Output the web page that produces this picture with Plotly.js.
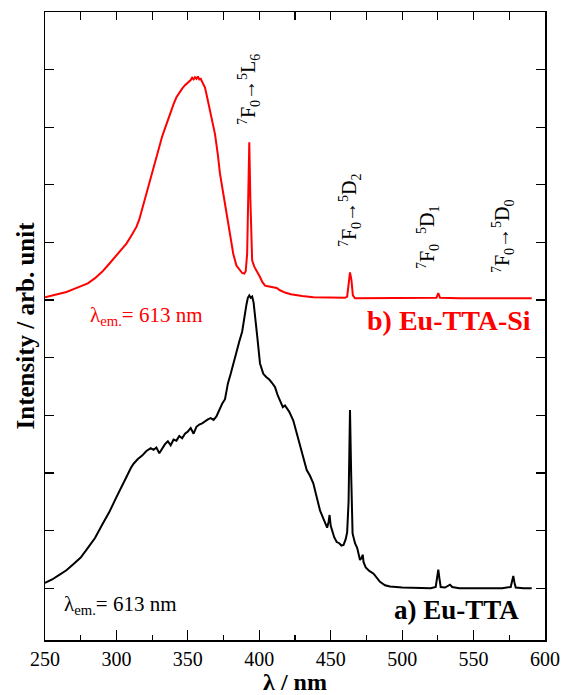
<!DOCTYPE html>
<html>
<head>
<meta charset="utf-8">
<script src="https://cdn.plot.ly/plotly-3.0.1.min.js"></script>
<style>html,body{margin:0;padding:0;background:#fff;}#chart{width:563px;height:695px;}</style>
</head>
<body>
<div id="chart"></div>
<script>
// a) Eu-TTA excitation spectrum (stacked offset 0)
const wavelengthA = [250,255,260,265,270,275,280,285,290,295,300,303,307,310,312,315,318,321,324,326,328,330,332,334,336,338,340,342,344,346,348,350,352,354,356,358,360,362,364,366,368,370,372,374,376,378,380,382,384,386,388,390,391,392,393,394,395,396,397,398.6,400.5,402.8,405,407,409,411,413,414.5,416.5,418,419,421,423.8,426,428.5,431,433.2,435.5,437.8,440,442.5,445,447.5,448.5,449.2,450,451,452.5,454.2,456,457.5,459,460.5,461.5,462.5,463.5,464.3,465.3,467,468.5,470.5,471.5,472.4,473,474.5,477,480,482,484.5,488,491.5,500,510,520,523.5,524.5,525.3,526.2,527,530,532,533.5,535,540,550,560,570,576,577,577.8,578.6,579.5,585,590.7];
const intensityA = [0.09,0.15,0.23,0.31,0.42,0.53,0.70,0.87,1.10,1.32,1.58,1.72,1.93,2.08,2.16,2.24,2.30,2.38,2.43,2.40,2.44,2.34,2.42,2.50,2.55,2.48,2.58,2.56,2.64,2.60,2.68,2.72,2.78,2.68,2.80,2.84,2.86,2.90,2.93,2.95,2.92,2.98,3.10,3.20,3.28,3.55,3.72,3.92,4.10,4.28,4.45,4.80,4.92,5.04,5.08,5.04,5.06,4.96,4.76,4.36,3.90,3.72,3.66,3.62,3.56,3.49,3.34,3.26,3.14,3.17,3.14,3.06,2.91,2.70,2.45,2.26,2.05,1.95,1.82,1.60,1.35,1.20,1.05,1.15,1.27,1.08,0.98,0.88,0.80,0.78,0.74,0.75,0.85,0.97,1.5,3.09,2.0,0.95,0.78,0.70,0.49,0.52,0.58,0.45,0.36,0.30,0.25,0.18,0.11,0.05,0.03,0.01,0.0,0.0,0.02,0.15,0.32,0.15,0.02,0.01,0.04,0.06,0.02,0.0,0.0,0.0,0.0,0.02,0.12,0.21,0.10,0.01,0.0,0.0];

// b) Eu-TTA-Si excitation spectrum (values as read on the stacked axis)
const wavelengthB = [250,255,260,265,270,275,280,285,290,295,298,300,303,305,307,310,312,314,316,318,320,322,324,326,328,330,332,334,336,338,340,342,344,346,348,350,352,353,354,355,356,357,358,359,360,362,363.5,365.5,367,369,371,372.5,375,377.2,379.5,381.8,384,386.5,388,389.5,390.5,391.5,392.3,393,393.7,394.4,395,396.5,398.2,399.5,400.5,402,404,406,408,410,412.2,414.5,418,422,426.2,430,437.8,450,460,461.5,462.5,463.5,464.5,465.5,467,480,500,520,524,525.3,526.5,540,560,575,578,580,590.7];
const intensityB = [5.05,5.08,5.10,5.14,5.19,5.24,5.29,5.38,5.49,5.63,5.72,5.78,5.86,5.92,5.98,6.10,6.18,6.27,6.40,6.58,6.75,6.93,7.13,7.32,7.50,7.68,7.84,7.98,8.13,8.28,8.40,8.52,8.60,8.67,8.73,8.77,8.82,8.86,8.83,8.87,8.84,8.88,8.83,8.84,8.78,8.69,8.52,8.29,8.10,7.88,7.52,7.19,6.82,6.50,6.12,5.80,5.60,5.51,5.47,5.46,5.50,5.80,6.8,7.74,6.8,5.9,5.69,5.58,5.51,5.45,5.40,5.32,5.25,5.24,5.23,5.22,5.21,5.17,5.13,5.10,5.08,5.07,5.05,5.04,5.04,5.06,5.30,5.48,5.35,5.08,5.03,5.03,5.03,5.03,5.04,5.12,5.04,5.03,5.03,5.03,5.04,5.03,5.03];

const xTicks = [250,300,350,400,450,500,550,600];
const xTickLabels = ['250','300','350','400','450','500','550','600'];

const W = 563, H = 695;
const M = {l:45, r:18, t:12, b:55};
const PW = W - M.l - M.r, PH = H - M.t - M.b;
const px = x => (x - M.l) / PW;
const py = y => (H - M.b - y) / PH;
const serif = 'Liberation Serif';

const traces = [
  {x: wavelengthB, y: intensityB, type:'scatter', mode:'lines', line:{color:'#ff0000', width:2}, name:'b) Eu-TTA-Si', showlegend:false, hoverinfo:'skip'},
  {x: wavelengthA, y: intensityA, type:'scatter', mode:'lines', line:{color:'#000000', width:2}, name:'a) Eu-TTA', showlegend:false, hoverinfo:'skip'},
  {x:[250,600], y:[null,null], xaxis:'x2', type:'scatter', mode:'lines', showlegend:false, hoverinfo:'skip'}
];

const ann = (text, x, y, size, color, opts={}) => Object.assign({
  text, x: px(x), y: py(y), xref:'paper', yref:'paper', showarrow:false,
  font:{family:serif, size, color}, xanchor:'center', yanchor:'middle'
}, opts);

const layout = {
  width: W, height: H,
  margin: M,
  font:{family:serif, color:'#000'},
  paper_bgcolor:'#fff', plot_bgcolor:'#fff',
  showlegend:false,
  xaxis: {
    range:[250,600], tickmode:'array', tickvals:xTicks, ticktext:xTickLabels,
    ticks:'inside', ticklen:10, tickwidth:1.2, tickcolor:'#000',
    minor:{dtick:25, ticks:'inside', ticklen:5, tickwidth:1.2, tickcolor:'#000'},
    showline:true, linecolor:'#000', linewidth:1.5, mirror:true,
    showgrid:false, zeroline:false,
    tickfont:{family:serif, size:20, color:'#000'},
    title:{text:'<b>λ / nm</b>', font:{family:serif, size:24, color:'#000'}, standoff:5}
  },
  xaxis2: {
    range:[250,600], overlaying:'x', side:'top', dtick:25, tick0:250,
    ticks:'inside', ticklen:8, tickwidth:1.2, tickcolor:'#000',
    showticklabels:false, showgrid:false, zeroline:false, showline:false
  },
  yaxis: {
    range:[-0.9,10], dtick:1, tick0:0,
    ticks:'inside', ticklen:9, tickwidth:1.2, tickcolor:'#000',
    showticklabels:false, showline:true, linecolor:'#000', linewidth:1.5, mirror:'ticks',
    showgrid:false, zeroline:false,
    title:{text:'<b>Intensity / arb. unit</b>', font:{family:serif, size:25, color:'#000'}, standoff:2}
  },
  annotations: [
    ann('λ<sub>em.</sub>= 613 nm', 146, 316, 21, '#ff0000'),
    ann('λ<sub>em.</sub>= 613 nm', 120, 605, 21, '#000'),
    ann('<b>b) Eu-TTA-Si</b>', 449, 320, 28, '#ff0000'),
    ann('<b>a) Eu-TTA</b>', 456, 610, 27, '#000'),
    ann('<sup>7</sup>F<sub>0</sub>→<sup>5</sup>L<sub>6</sub>', 249, 90, 20, '#000', {textangle:-90}),
    ann('<sup>7</sup>F<sub>0</sub>→<sup>5</sup>D<sub>2</sub>', 350, 210, 20, '#000', {textangle:-90}),
    ann('<sup>7</sup>F<sub>0</sub>  <sup>5</sup>D<sub>1</sub>', 428, 237, 20, '#000', {textangle:-90}),
    ann('<sup>7</sup>F<sub>0</sub>→<sup>5</sup>D<sub>0</sub>', 503, 236, 20, '#000', {textangle:-90})
  ]
};

Plotly.newPlot('chart', traces, layout, {staticPlot:true, displayModeBar:false});
</script>
</body>
</html>
